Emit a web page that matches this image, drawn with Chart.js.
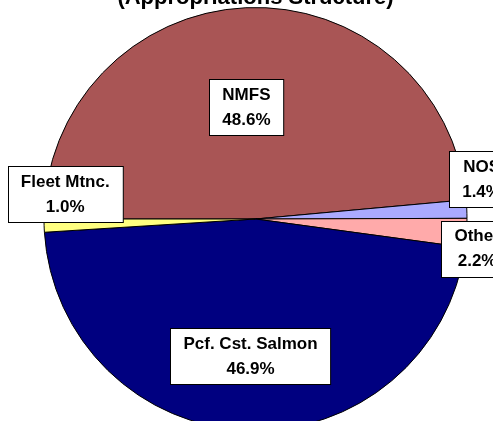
<!DOCTYPE html>
<html>
<head>
<meta charset="utf-8">
<script src="https://cdn.jsdelivr.net/npm/chart.js@4"></script>
<style>
  html, body { margin: 0; padding: 0; background: #fff; overflow: hidden; }
  #chart { display: block; }
</style>
</head>
<body>
<canvas id="chart" width="493" height="460"></canvas>
<script>
var labels = ["NMFS", "NOS", "Other", "Pcf. Cst. Salmon", "Fleet Mtnc."];
var shares = [48.6, 1.4, 2.2, 46.9, 1.0];
var colors = ["#A95555", "#AAAAFF", "#FFAAAA", "#000080", "#FFFF80"];

// where each label box sits: fraction of radius along the slice middle, plus a vertical nudge
var labelRadius = [0.53, 1.07, 1.05, 0.65, 0.9];
var labelNudge = [0, -29, 15, 0, -31];

var titleText = "(Appropriations Structure)";

var titlePlugin = {
    id: 'cutTitle',
    afterDraw: function (chart) {
        var ctx = chart.ctx;
        var area = chart.chartArea;
        ctx.save();
        ctx.font = "bold 22px Arial, 'Liberation Sans', sans-serif";
        ctx.fillStyle = "#000";
        ctx.textAlign = "center";
        ctx.textBaseline = "alphabetic";
        ctx.fillText(titleText, (area.left + area.right) / 2, area.top - 3);
        ctx.restore();
    }
};

var boxLabels = {
    id: 'boxLabels',
    afterDraw: function (chart) {
        var ctx = chart.ctx;
        var arcs = chart.getDatasetMeta(0).data;
        ctx.save();
        ctx.font = "bold 17px Arial, 'Liberation Sans', sans-serif";
        ctx.textAlign = "center";
        ctx.textBaseline = "middle";
        arcs.forEach(function (arc, i) {
            var mid = (arc.startAngle + arc.endAngle) / 2;
            var x = arc.x + Math.cos(mid) * arc.outerRadius * labelRadius[i];
            var y = arc.y + Math.sin(mid) * arc.outerRadius * labelRadius[i] + labelNudge[i];
            if (i === 0) x -= 4;
            var line1 = labels[i];
            var line2 = shares[i].toFixed(1) + "%";
            var w = Math.max(ctx.measureText(line1).width, ctx.measureText(line2).width) + 26;
            var h = 56;
            var bx = Math.round(x - w / 2) + 0.5;
            var by = Math.round(y - h / 2) + 0.5;
            ctx.fillStyle = "#fff";
            ctx.fillRect(bx, by, w, h);
            ctx.strokeStyle = "#000";
            ctx.lineWidth = 1;
            ctx.strokeRect(bx, by, w, h);
            ctx.fillStyle = "#000";
            ctx.fillText(line1, x, y - 12);
            ctx.fillText(line2, x, y + 13);
        });
        ctx.restore();
    }
};

window.onload = function () {
    var ctx = document.getElementById('chart').getContext('2d');
    window.theChart = new Chart(ctx, {
        type: 'pie',
        data: {
            labels: labels,
            datasets: [{
                data: shares,
                backgroundColor: colors,
                borderColor: "#000",
                borderWidth: 1
            }]
        },
        options: {
            responsive: false,
            animation: false,
            rotation: -90,
            layout: {
                padding: { left: 43, right: 25, top: 7, bottom: 29 }
            },
            plugins: {
                legend: { display: false },
                tooltip: { enabled: false },
                title: { display: false }
            }
        },
        plugins: [titlePlugin, boxLabels]
    });
};
</script>
</body>
</html>
